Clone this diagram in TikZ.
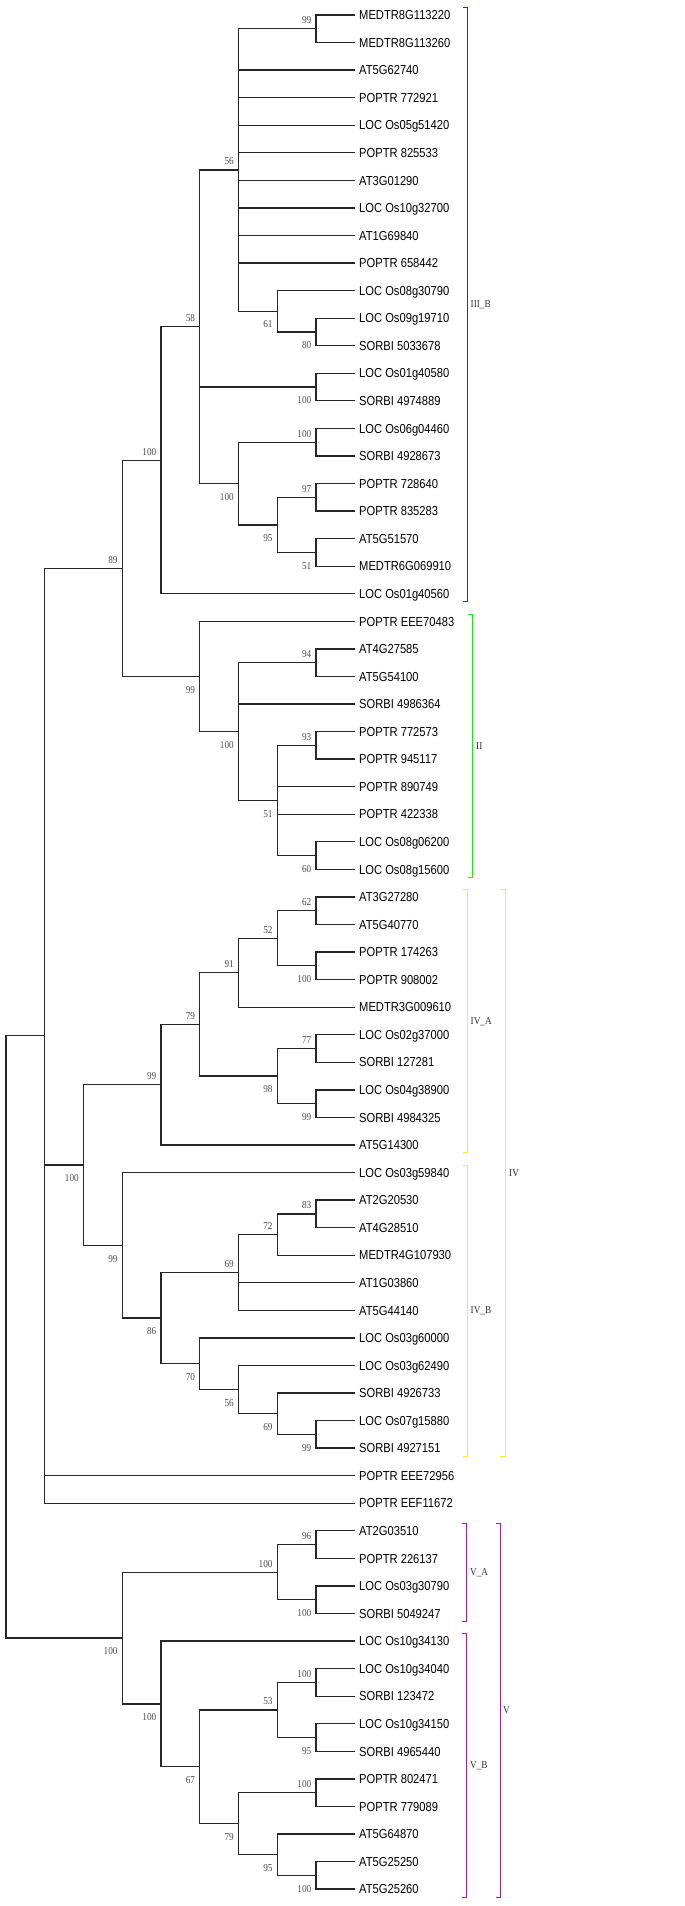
\documentclass[tikz,border=0pt]{standalone}
\usepackage{fontspec}
\usepackage{tikz}
\newfontfamily\leaffont[FakeStretch=0.86]{Liberation Sans}
\newfontfamily\bootfont[FakeStretch=0.88]{Liberation Serif}
\definecolor{cladeblue}{RGB}{45, 45, 200}
\definecolor{cladegreen}{RGB}{40, 225, 40}
\definecolor{cladeyellow}{RGB}{250, 240, 30}
\definecolor{cladepurple}{RGB}{150, 40, 150}

\begin{document}
\begin{tikzpicture}[
    x=1pt, y=-27.56pt,
    branch/.style={draw=black!85, line width=1.3pt},
    leaf/.style={anchor=west, inner xsep=4pt, inner ysep=0pt, text height=9.4pt, text depth=0pt, font=\leaffont\fontsize{13}{13}\selectfont},
    boot/.style={anchor=east, inner sep=0pt, xshift=-4.5pt, text=black!70, font=\bootfont\fontsize{10.5}{10.5}\selectfont},
    bootup/.style={boot, yshift=8.5pt},
    bootdown/.style={boot, yshift=-13.3pt},
    bracket/.style={line width=1pt},
    clade/.style={anchor=west, inner sep=0pt, text=black!80, font=\bootfont\fontsize{10.5}{10.5}\selectfont}
]
\useasboundingbox (0,0.4557) rectangle (685,69.614);

% Leaves
\node[leaf] (l1) at (355,1) {MEDTR8G113220};
\node[leaf] (l2) at (355,2) {MEDTR8G113260};
\node[leaf] (l3) at (355,3) {AT5G62740};
\node[leaf] (l4) at (355,4) {POPTR 772921};
\node[leaf] (l5) at (355,5) {LOC Os05g51420};
\node[leaf] (l6) at (355,6) {POPTR 825533};
\node[leaf] (l7) at (355,7) {AT3G01290};
\node[leaf] (l8) at (355,8) {LOC Os10g32700};
\node[leaf] (l9) at (355,9) {AT1G69840};
\node[leaf] (l10) at (355,10) {POPTR 658442};
\node[leaf] (l11) at (355,11) {LOC Os08g30790};
\node[leaf] (l12) at (355,12) {LOC Os09g19710};
\node[leaf] (l13) at (355,13) {SORBI 5033678};
\node[leaf] (l14) at (355,14) {LOC Os01g40580};
\node[leaf] (l15) at (355,15) {SORBI 4974889};
\node[leaf] (l16) at (355,16) {LOC Os06g04460};
\node[leaf] (l17) at (355,17) {SORBI 4928673};
\node[leaf] (l18) at (355,18) {POPTR 728640};
\node[leaf] (l19) at (355,19) {POPTR 835283};
\node[leaf] (l20) at (355,20) {AT5G51570};
\node[leaf] (l21) at (355,21) {MEDTR6G069910};
\node[leaf] (l22) at (355,22) {LOC Os01g40560};
\node[leaf] (l23) at (355,23) {POPTR EEE70483};
\node[leaf] (l24) at (355,24) {AT4G27585};
\node[leaf] (l25) at (355,25) {AT5G54100};
\node[leaf] (l26) at (355,26) {SORBI 4986364};
\node[leaf] (l27) at (355,27) {POPTR 772573};
\node[leaf] (l28) at (355,28) {POPTR 945117};
\node[leaf] (l29) at (355,29) {POPTR 890749};
\node[leaf] (l30) at (355,30) {POPTR 422338};
\node[leaf] (l31) at (355,31) {LOC Os08g06200};
\node[leaf] (l32) at (355,32) {LOC Os08g15600};
\node[leaf] (l33) at (355,33) {AT3G27280};
\node[leaf] (l34) at (355,34) {AT5G40770};
\node[leaf] (l35) at (355,35) {POPTR 174263};
\node[leaf] (l36) at (355,36) {POPTR 908002};
\node[leaf] (l37) at (355,37) {MEDTR3G009610};
\node[leaf] (l38) at (355,38) {LOC Os02g37000};
\node[leaf] (l39) at (355,39) {SORBI 127281};
\node[leaf] (l40) at (355,40) {LOC Os04g38900};
\node[leaf] (l41) at (355,41) {SORBI 4984325};
\node[leaf] (l42) at (355,42) {AT5G14300};
\node[leaf] (l43) at (355,43) {LOC Os03g59840};
\node[leaf] (l44) at (355,44) {AT2G20530};
\node[leaf] (l45) at (355,45) {AT4G28510};
\node[leaf] (l46) at (355,46) {MEDTR4G107930};
\node[leaf] (l47) at (355,47) {AT1G03860};
\node[leaf] (l48) at (355,48) {AT5G44140};
\node[leaf] (l49) at (355,49) {LOC Os03g60000};
\node[leaf] (l50) at (355,50) {LOC Os03g62490};
\node[leaf] (l51) at (355,51) {SORBI 4926733};
\node[leaf] (l52) at (355,52) {LOC Os07g15880};
\node[leaf] (l53) at (355,53) {SORBI 4927151};
\node[leaf] (l54) at (355,54) {POPTR EEE72956};
\node[leaf] (l55) at (355,55) {POPTR EEF11672};
\node[leaf] (l56) at (355,56) {AT2G03510};
\node[leaf] (l57) at (355,57) {POPTR 226137};
\node[leaf] (l58) at (355,58) {LOC Os03g30790};
\node[leaf] (l59) at (355,59) {SORBI 5049247};
\node[leaf] (l60) at (355,60) {LOC Os10g34130};
\node[leaf] (l61) at (355,61) {LOC Os10g34040};
\node[leaf] (l62) at (355,62) {SORBI 123472};
\node[leaf] (l63) at (355,63) {LOC Os10g34150};
\node[leaf] (l64) at (355,64) {SORBI 4965440};
\node[leaf] (l65) at (355,65) {POPTR 802471};
\node[leaf] (l66) at (355,66) {POPTR 779089};
\node[leaf] (l67) at (355,67) {AT5G64870};
\node[leaf] (l68) at (355,68) {AT5G25250};
\node[leaf] (l69) at (355,69) {AT5G25260};

% Internal nodes, III_B
\coordinate (ba) at (316,1.5);
\coordinate (bc) at (316,12.5);
\coordinate (bb) at (277.25,11.75);
\coordinate (b56) at (238.5,6.625);
\coordinate (bd) at (316,14.5);
\coordinate (bf) at (316,16.5);
\coordinate (bh) at (316,18.5);
\coordinate (bi) at (316,20.5);
\coordinate (bg) at (277.25,19.5);
\coordinate (be) at (238.5,18);
\coordinate (b58) at (199.75,12.3125);
\coordinate (b100) at (161,17.15625);
% II
\coordinate (ck) at (316,24.5);
\coordinate (cm) at (316,27.5);
\coordinate (cn) at (316,31.5);
\coordinate (cl) at (277.25,29.5);
\coordinate (cj) at (238.5,27);
\coordinate (ca) at (199.75,25);
\coordinate (n89) at (122.25,21.078125);
% IV_A
\coordinate (da) at (316,33.5);
\coordinate (db) at (316,35.5);
\coordinate (d52) at (277.25,34.5);
\coordinate (d91) at (238.5,35.75);
\coordinate (d77) at (316,38.5);
\coordinate (d99) at (316,40.5);
\coordinate (d98) at (277.25,39.5);
\coordinate (d79) at (199.75,37.625);
\coordinate (dp) at (161,39.8125);
% IV_B
\coordinate (ea) at (316,44.5);
\coordinate (e72) at (277.25,45.25);
\coordinate (e69) at (238.5,46.625);
\coordinate (e99) at (316,52.5);
\coordinate (e69b) at (277.25,51.75);
\coordinate (e56) at (238.5,50.875);
\coordinate (e70) at (199.75,49.9375);
\coordinate (e86) at (161,48.28125);
\coordinate (eq) at (122.25,45.640625);
\coordinate (n100) at (83.5,42.7265625);
\coordinate (n1) at (44.75,38.0390625);
% V
\coordinate (va) at (316,56.5);
\coordinate (vb) at (316,58.5);
\coordinate (vA) at (277.25,57.5);
\coordinate (vc) at (316,61.5);
\coordinate (vd) at (316,63.5);
\coordinate (v53) at (277.25,62.5);
\coordinate (ve) at (316,65.5);
\coordinate (vf) at (316,68.5);
\coordinate (v95) at (277.25,67.75);
\coordinate (v79) at (238.5,66.625);
\coordinate (v67) at (199.75,64.5625);
\coordinate (vB) at (161,62.28125);
\coordinate (vr) at (122.25,59.890625);
\coordinate (root) at (6,48.96484375);

% Branches
\draw[branch] (n1) -| (root) |- (vr);
\draw[branch] (n89) -| (n1) |- (l55.west) (n100 -| n1) -- (n100) (l54.west -| n1) -- (l54.west);
\draw[branch] (b100) -| (n89) |- (ca);
\draw[branch] (b58) -| (b100) |- (l22.west);
\draw[branch] (b56) -| (b58) |- (be) (bd -| b58) -- (bd);
\draw[branch] (ba) -| (b56) |- (bb)
    (l3.west -| b56) -- (l3.west) (l4.west -| b56) -- (l4.west)
    (l5.west -| b56) -- (l5.west) (l6.west -| b56) -- (l6.west)
    (l7.west -| b56) -- (l7.west) (l8.west -| b56) -- (l8.west)
    (l9.west -| b56) -- (l9.west) (l10.west -| b56) -- (l10.west);
\draw[branch] (l1.west) -| (ba) |- (l2.west);
\draw[branch] (l11.west) -| (bb) |- (bc);
\draw[branch] (l12.west) -| (bc) |- (l13.west);
\draw[branch] (l14.west) -| (bd) |- (l15.west);
\draw[branch] (bf) -| (be) |- (bg);
\draw[branch] (l16.west) -| (bf) |- (l17.west);
\draw[branch] (bh) -| (bg) |- (bi);
\draw[branch] (l18.west) -| (bh) |- (l19.west);
\draw[branch] (l20.west) -| (bi) |- (l21.west);
\draw[branch] (l23.west) -| (ca) |- (cj);
\draw[branch] (ck) -| (cj) |- (cl) (l26.west -| cj) -- (l26.west);
\draw[branch] (l24.west) -| (ck) |- (l25.west);
\draw[branch] (cm) -| (cl) |- (cn) (l29.west -| cl) -- (l29.west) (l30.west -| cl) -- (l30.west);
\draw[branch] (l27.west) -| (cm) |- (l28.west);
\draw[branch] (l31.west) -| (cn) |- (l32.west);
\draw[branch] (dp) -| (n100) |- (eq);
\draw[branch] (d79) -| (dp) |- (l42.west);
\draw[branch] (d91) -| (d79) |- (d98);
\draw[branch] (d52) -| (d91) |- (l37.west);
\draw[branch] (da) -| (d52) |- (db);
\draw[branch] (l33.west) -| (da) |- (l34.west);
\draw[branch] (l35.west) -| (db) |- (l36.west);
\draw[branch] (d77) -| (d98) |- (d99);
\draw[branch] (l38.west) -| (d77) |- (l39.west);
\draw[branch] (l40.west) -| (d99) |- (l41.west);
\draw[branch] (l43.west) -| (eq) |- (e86);
\draw[branch] (e69) -| (e86) |- (e70);
\draw[branch] (e72) -| (e69) |- (l48.west) (l47.west -| e69) -- (l47.west);
\draw[branch] (ea) -| (e72) |- (l46.west);
\draw[branch] (l44.west) -| (ea) |- (l45.west);
\draw[branch] (l49.west) -| (e70) |- (e56);
\draw[branch] (l50.west) -| (e56) |- (e69b);
\draw[branch] (l51.west) -| (e69b) |- (e99);
\draw[branch] (l52.west) -| (e99) |- (l53.west);
\draw[branch] (vA) -| (vr) |- (vB);
\draw[branch] (va) -| (vA) |- (vb);
\draw[branch] (l56.west) -| (va) |- (l57.west);
\draw[branch] (l58.west) -| (vb) |- (l59.west);
\draw[branch] (l60.west) -| (vB) |- (v67);
\draw[branch] (v53) -| (v67) |- (v79);
\draw[branch] (vc) -| (v53) |- (vd);
\draw[branch] (l61.west) -| (vc) |- (l62.west);
\draw[branch] (l63.west) -| (vd) |- (l64.west);
\draw[branch] (ve) -| (v79) |- (v95);
\draw[branch] (l65.west) -| (ve) |- (l66.west);
\draw[branch] (l67.west) -| (v95) |- (vf);
\draw[branch] (l68.west) -| (vf) |- (l69.west);

% Bootstrap values
\node[bootup] (tba) at (ba) {99};
\node[bootup] (tb56) at (b56) {56};
\node[bootdown] (tbb) at (bb) {61};
\node[bootdown] (tbc) at (bc) {80};
\node[bootup] (tb58) at (b58) {58};
\node[bootdown] (tbd) at (bd) {100};
\node[bootup] (tb100) at (b100) {100};
\node[bootup] (tbf) at (bf) {100};
\node[bootdown] (tbe) at (be) {100};
\node[bootup] (tbh) at (bh) {97};
\node[bootdown] (tbg) at (bg) {95};
\node[bootdown] (tbi) at (bi) {51};
\node[bootup] (tn89) at (n89) {89};
\node[bootup] (tck) at (ck) {94};
\node[bootdown] (tca) at (ca) {99};
\node[bootdown] (tcj) at (cj) {100};
\node[bootup] (tcm) at (cm) {93};
\node[bootdown] (tcl) at (cl) {51};
\node[bootdown] (tcn) at (cn) {60};
\node[bootup] (tda) at (da) {62};
\node[bootup] (td52) at (d52) {52};
\node[bootdown] (tdb) at (db) {100};
\node[bootup] (td91) at (d91) {91};
\node[bootup] (td79) at (d79) {79};
\node[bootup] (td77) at (d77) {77};
\node[bootdown] (td98) at (d98) {98};
\node[bootdown] (td99) at (d99) {99};
\node[bootup] (tdp) at (dp) {99};
\node[bootdown] (tn100) at (n100) {100};
\node[bootup] (tea) at (ea) {83};
\node[bootup] (te72) at (e72) {72};
\node[bootup] (te69) at (e69) {69};
\node[bootdown] (teq) at (eq) {99};
\node[bootdown] (te86) at (e86) {86};
\node[bootdown] (te70) at (e70) {70};
\node[bootdown] (te56) at (e56) {56};
\node[bootdown] (te69b) at (e69b) {69};
\node[bootdown] (te99) at (e99) {99};
\node[bootup] (tva) at (va) {96};
\node[bootup] (tvA) at (vA) {100};
\node[bootdown] (tvb) at (vb) {100};
\node[bootdown] (tvr) at (vr) {100};
\node[bootup] (tvc) at (vc) {100};
\node[bootup] (tv53) at (v53) {53};
\node[bootdown] (tvd) at (vd) {95};
\node[bootdown] (tvB) at (vB) {100};
\node[bootdown] (tv67) at (v67) {67};
\node[bootup] (tve) at (ve) {100};
\node[bootdown] (tv79) at (v79) {79};
\node[bootdown] (tv95) at (v95) {95};
\node[bootdown] (tvf) at (vf) {100};

% Clade brackets
\draw[bracket, cladeblue] (462.7,0.74) -- (467,0.74) -- (467,22.29) -- (462.7,22.29);
\node[clade] (k3b) at (470.5,11.515) {III\_B};
\draw[bracket, cladegreen] (468.3,22.74) -- (472.7,22.74) -- (472.7,32.29) -- (468.3,32.29);
\node[clade] (k2) at (476,27.515) {II};
\draw[bracket, cladeyellow] (462.7,32.74) -- (467,32.74) -- (467,42.29) -- (462.7,42.29);
\node[clade] (k4a) at (470.5,37.515) {IV\_A};
\draw[bracket, cladeyellow] (462.7,42.74) -- (467,42.74) -- (467,53.29) -- (462.7,53.29);
\node[clade] (k4b) at (470.5,48.015) {IV\_B};
\draw[bracket, cladeyellow] (500,32.74) -- (505.3,32.74) -- (505.3,53.29) -- (500,53.29);
\node[clade] (k4) at (509,43.015) {IV};
\draw[bracket, cladepurple] (461.7,55.74) -- (466,55.74) -- (466,59.29) -- (461.7,59.29);
\node[clade] (k5a) at (470,57.515) {V\_A};
\draw[bracket, cladepurple] (461.7,59.74) -- (466,59.74) -- (466,69.29) -- (461.7,69.29);
\node[clade] (k5b) at (470,64.515) {V\_B};
\draw[bracket, cladepurple] (495.7,55.74) -- (500,55.74) -- (500,69.29) -- (495.7,69.29);
\node[clade] (k5) at (503,62.515) {V};

\end{tikzpicture}
\end{document}
